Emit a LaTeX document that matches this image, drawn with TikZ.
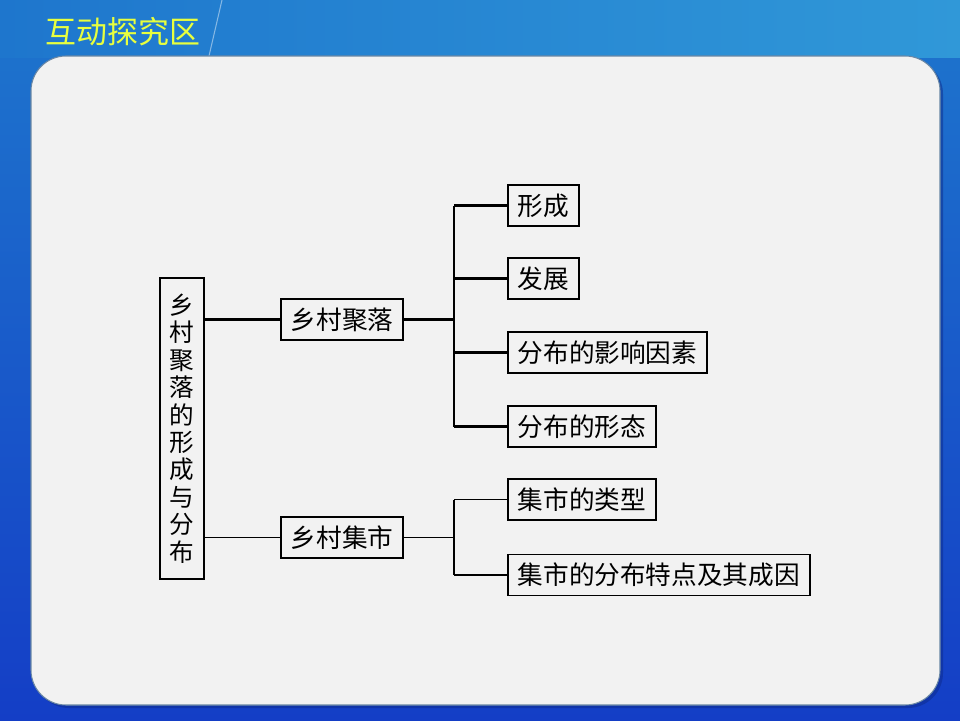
\documentclass[tikz,border=0pt]{standalone}
\usepackage{fontspec}
\setmainfont{Noto Sans CJK SC}
\usepackage{tikz}
\usetikzlibrary{positioning}
\definecolor{lanshang}{RGB}{30,118,205}
\definecolor{lanyou}{RGB}{48,152,216}
\definecolor{lanxia}{RGB}{20,62,198}
\definecolor{huangse}{RGB}{232,255,62}
\definecolor{banse}{RGB}{242,242,242}
\definecolor{bianse}{RGB}{105,135,165}

\begin{document}
\begin{tikzpicture}[
  x=0.02cm, y=-0.02cm,
  kuang/.style={rectangle, draw=black, line width=1pt, fill=banse,
                minimum height=0.82cm, inner xsep=5.6pt, inner ysep=0pt,
                anchor=west, font=\fontsize{14.6}{16}\selectfont},
  zongkuang/.style={rectangle, draw=black, line width=1pt, fill=banse,
                    minimum width=0.88cm, minimum height=6.02cm, inner sep=0pt,
                    align=center, font=\fontsize{14}{15.6}\selectfont},
  cuxian/.style={line width=1.2pt, color=black},
  xixian/.style={line width=0.6pt, color=black}
]
  \useasboundingbox (0,0) rectangle (960,720);
  \shade[top color=lanshang, bottom color=lanxia] (0,0) rectangle (960,720);
  \shade[left color=lanshang, right color=lanyou] (0,0) rectangle (960,57);
  \draw[white, opacity=0.45, line width=0.6pt] (222,0) -- (209,56);
  \fill[lanxia!70!black, opacity=0.5, rounded corners=0.7cm] (34,59) rectangle (943,708);
  \draw[fill=banse, draw=bianse, line width=0.6pt, rounded corners=0.7cm] (31,56) rectangle (940,705);

  \node[anchor=west, text=huangse, font=\fontsize{17.6}{20}\selectfont, inner sep=0pt] (biaoti) at (45,32) {互动探究区};

  \node[zongkuang] (gen) at (182,428.5) {乡\\村\\聚\\落\\的\\形\\成\\与\\分\\布};
  \node[kuang] (julu) at (280,319.5) {乡村聚落};
  \node[kuang] (jishi) at (280,537.5) {乡村集市};

  \node[kuang] (xingcheng) at (507,205.5) {形成};
  \node[kuang] (fazhan) at (507,278.5) {发展};
  \node[kuang] (yinsu) at (507,352.5) {分布的影响因素};
  \node[kuang] (xingtai) at (507,426.5) {分布的形态};
  \node[kuang] (leixing) at (507,499.5) {集市的类型};
  \node[kuang] (tedian) at (507,575) {集市的分布特点及其成因};

  \coordinate (cha1) at (454,319.5);
  \coordinate (cha2) at (454,537.5);

  \draw[cuxian] (gen.east |- julu.west) -- (julu.west);
  \draw[cuxian] (julu.east) -- (cha1);
  \draw[cuxian] (cha1 |- xingcheng.west) -- (cha1 |- xingtai.west);
  \draw[cuxian] (cha1 |- xingcheng.west) -- (xingcheng.west);
  \draw[cuxian] (cha1 |- fazhan.west) -- (fazhan.west);
  \draw[cuxian] (cha1 |- yinsu.west) -- (yinsu.west);
  \draw[cuxian] (cha1 |- xingtai.west) -- (xingtai.west);

  \draw[xixian] (gen.east |- jishi.west) -- (jishi.west);
  \draw[xixian] (jishi.east) -- (cha2);
  \draw[xixian] (cha2 |- leixing.west) -- (cha2 |- tedian.west);
  \draw[xixian] (cha2 |- leixing.west) -- (leixing.west);
  \draw[xixian] (cha2 |- tedian.west) -- (tedian.west);
\end{tikzpicture}
\end{document}
